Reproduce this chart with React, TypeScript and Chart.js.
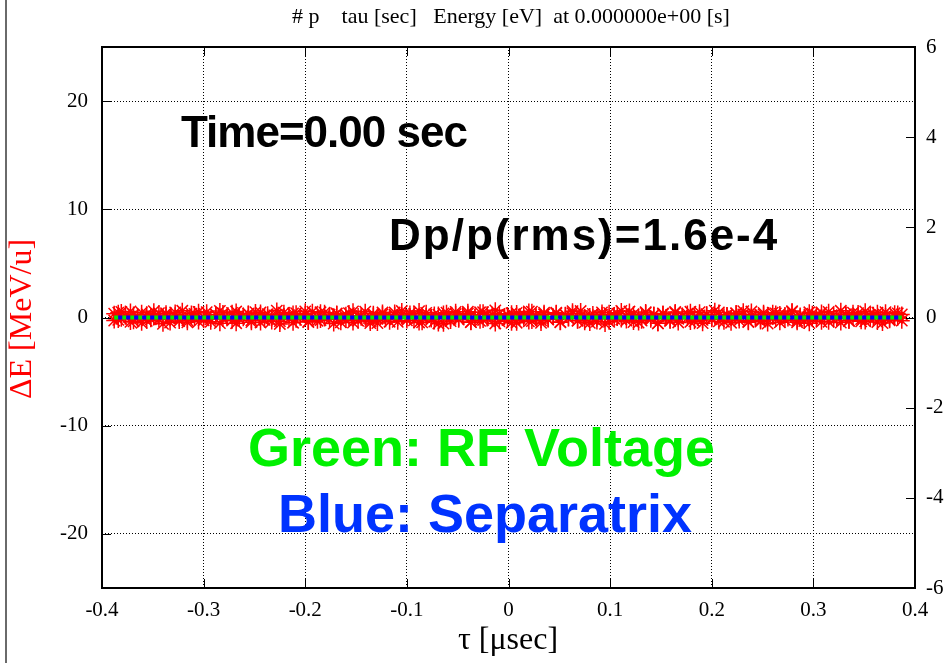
import React, { useEffect, useRef } from "react";
import { Chart, registerables } from "chart.js";

Chart.register(...registerables);

// ---- tick labels ----
const xTicks = [-0.4, -0.3, -0.2, -0.1, 0, 0.1, 0.2, 0.3, 0.4];
const yTicks = [-20, -10, 0, 10, 20];
const y2Ticks = [-6, -4, -2, 0, 2, 4, 6];

// ---- particle distribution (tau [usec], dE [MeV/u]) ----
const tau = [
  -0.388, -0.384, -0.381, -0.377, -0.372, -0.369, -0.365, -0.361, -0.356, -0.352,
  -0.349, -0.344, -0.34, -0.337, -0.333, -0.328, -0.324, -0.321, -0.316, -0.312,
  -0.309, -0.305, -0.3, -0.297, -0.293, -0.288, -0.284, -0.281, -0.277, -0.272,
  -0.268, -0.265, -0.261, -0.256, -0.253, -0.249, -0.244, -0.24, -0.237, -0.233,
  -0.228, -0.225, -0.221, -0.216, -0.212, -0.209, -0.205, -0.2, -0.197, -0.193,
  -0.188, -0.185, -0.181, -0.176, -0.172, -0.169, -0.165, -0.16, -0.157, -0.153,
  -0.148, -0.145, -0.141, -0.136, -0.133, -0.129, -0.124, -0.121, -0.117, -0.112,
  -0.109, -0.105, -0.1, -0.097, -0.093, -0.088, -0.085, -0.081, -0.076, -0.073,
  -0.069, -0.064, -0.061, -0.057, -0.052, -0.049, -0.045, -0.04, -0.037, -0.033,
  -0.028, -0.025, -0.021, -0.016, -0.013, -0.009, -0.004, -0.001, 0.003, 0.008,
  0.011, 0.015, 0.02, 0.023, 0.027, 0.032, 0.035, 0.039, 0.044, 0.047,
  0.051, 0.056, 0.059, 0.063, 0.068, 0.071, 0.075, 0.08, 0.083, 0.087,
  0.092, 0.095, 0.099, 0.104, 0.107, 0.111, 0.116, 0.119, 0.123, 0.128,
  0.131, 0.135, 0.14, 0.143, 0.147, 0.152, 0.155, 0.159, 0.164, 0.167,
  0.171, 0.176, 0.179, 0.183, 0.188, 0.191, 0.195, 0.2, 0.203, 0.207,
  0.212, 0.215, 0.219, 0.224, 0.227, 0.231, 0.236, 0.239, 0.243, 0.248,
  0.251, 0.255, 0.26, 0.263, 0.267, 0.272, 0.275, 0.279, 0.284, 0.287,
  0.291, 0.296, 0.299, 0.303, 0.308, 0.311, 0.315, 0.32, 0.323, 0.327,
  0.332, 0.335, 0.339, 0.344, 0.347, 0.351, 0.356, 0.359, 0.363, 0.368,
  0.371, 0.375, 0.38, 0.383, 0.387,
];
const dEa = [
  0.35, -0.22, 0.51, 0.08, -0.41, 0.27, -0.05, 0.44, -0.31, 0.12, 0.58, -0.18, 0.03, 0.39, -0.47,
  0.21, -0.09, 0.62, -0.26, 0.15, 0.33, -0.38, 0.06, 0.49, -0.14, 0.25, -0.52, 0.41, 0.02, -0.29,
  0.55, -0.11, 0.18, 0.36, -0.43, 0.09, 0.47, -0.21, 0.31, -0.06, 0.64, -0.34, 0.13, 0.22, -0.48,
  0.4, -0.02, 0.29, -0.37, 0.53, 0.07, -0.24, 0.45, -0.16, 0.11, 0.38, -0.44, 0.26, -0.08, 0.57,
  -0.3, 0.17, 0.04, -0.51, 0.34, -0.13, 0.46, 0.1, -0.39, 0.23, -0.04, 0.6, -0.27, 0.14, 0.32,
  -0.46, 0.05, 0.43, -0.19, 0.28, -0.55, 0.37, 0.01, -0.33, 0.52, -0.1, 0.2, 0.35, -0.42, 0.08,
  0.48, -0.23, 0.3, -0.07, 0.66, -0.35, 0.12, 0.24, -0.49, 0.42, -0.03, 0.27, -0.36, 0.54, 0.06,
  -0.25, 0.44, -0.17, 0.1, 0.39, -0.45, 0.25, -0.09, 0.58, -0.31, 0.16, 0.05, -0.5, 0.33, -0.12,
  0.47, 0.09, -0.4, 0.22, -0.05, 0.61, -0.28, 0.15, 0.31, -0.47, 0.04, 0.42, -0.2, 0.27, -0.54,
  0.38, 0.02, -0.32, 0.51, -0.11, 0.19, 0.36, -0.41, 0.07, 0.49, -0.22, 0.29, -0.08, 0.63, -0.36,
  0.11, 0.23, -0.48, 0.41, -0.04, 0.28, -0.37, 0.55, 0.05, -0.26, 0.43, -0.15, 0.12, 0.37, -0.44,
  0.24, -0.1, 0.59, -0.3, 0.18, 0.06, -0.52, 0.35, -0.14, 0.46, 0.08, -0.39, 0.21, -0.06, 0.62,
  0.31, -0.27, 0.44, 0.12, -0.35, 0.57, -0.09, 0.26, -0.42, 0.17, 0.49, -0.18, 0.03, 0.38, -0.29,
];
const dEb = [
  -0.28, 0.44, -0.12, 0.19, 0.56, -0.35, 0.07, -0.49, 0.31, -0.17, 0.02, 0.4, -0.58, 0.23, -0.06,
  0.47, -0.32, 0.14, -0.44, 0.36, -0.01, 0.52, -0.25, 0.09, -0.39, 0.28, 0.61, -0.15, 0.05, 0.43,
  -0.53, 0.2, -0.08, 0.34, -0.27, 0.5, -0.46, 0.16, 0.03, -0.36, 0.26, -0.6, 0.45, -0.13, 0.38,
  -0.21, 0.11, 0.57, -0.42, 0.06, -0.3, 0.48, -0.1, 0.24, -0.56, 0.33, 0.01, -0.23, 0.41, -0.47,
  0.13, -0.03, 0.54, -0.34, 0.18, -0.51, 0.29, -0.16, 0.07, 0.46, -0.4, 0.21, -0.07, 0.37, -0.26,
  0.59, -0.45, 0.15, 0.04, -0.38, 0.27, -0.57, 0.44, -0.12, 0.32, -0.2, 0.1, 0.53, -0.43, 0.08,
  -0.31, 0.49, -0.09, 0.25, -0.55, 0.34, 0.02, -0.24, 0.4, -0.48, 0.12, -0.02, 0.56, -0.33, 0.17,
  -0.5, 0.3, -0.18, 0.06, 0.45, -0.41, 0.22, -0.06, 0.39, -0.27, 0.6, -0.44, 0.14, 0.03, -0.37,
  0.26, -0.59, 0.43, -0.11, 0.35, -0.19, 0.09, 0.55, -0.42, 0.07, -0.29, 0.5, -0.08, 0.23, -0.54,
  0.32, 0.0, -0.22, 0.42, -0.46, 0.14, -0.04, 0.53, -0.35, 0.19, -0.52, 0.28, -0.17, 0.08, 0.47,
  -0.39, 0.2, -0.05, 0.36, -0.28, 0.58, -0.43, 0.16, 0.05, -0.38, 0.29, -0.56, 0.45, -0.13, 0.33,
  -0.21, 0.11, 0.51, -0.44, 0.09, -0.32, 0.48, -0.09, 0.26, -0.4, 0.15, 0.52, -0.19, 0.03, -0.47,
  0.24, -0.33, 0.06, 0.41, -0.14, -0.36, 0.22, -0.08, 0.45, -0.51, 0.13, -0.25, 0.39, -0.02, 0.28,
];

// ---- RF voltage (y2) and separatrix (y) ----
const lineTau = [-0.388, -0.2, 0, 0.2, 0.387];
const rfVoltage = [0, 0, 0, 0, 0];
const separatrix = [0, 0, 0, 0, 0];

const titleText = "# p    tau [sec]   Energy [eV]  at 0.000000e+00 [s]";

const decorPlugin = {
  id: "decor",
  beforeDraw(chart: any) {
    const ctx = chart.ctx;
    ctx.save();
    ctx.fillStyle = "#ffffff";
    ctx.fillRect(0, 0, chart.width, chart.height);
    ctx.strokeStyle = "#6a6a6a";
    ctx.lineWidth = 2;
    ctx.beginPath();
    ctx.moveTo(6, 0);
    ctx.lineTo(6, chart.height);
    ctx.stroke();
    ctx.restore();
  },
  afterDraw(chart: any) {
    const { ctx, chartArea: a, scales } = chart;
    ctx.save();
    // inward ticks
    ctx.strokeStyle = "#000";
    ctx.lineWidth = 1;
    ctx.beginPath();
    for (const v of xTicks) {
      const px = Math.round(scales.x.getPixelForValue(v)) + 0.5;
      ctx.moveTo(px, a.bottom);
      ctx.lineTo(px, a.bottom - 9);
      ctx.moveTo(px, a.top);
      ctx.lineTo(px, a.top + 9);
    }
    for (const v of yTicks) {
      const py = Math.round(scales.y.getPixelForValue(v)) + 0.5;
      ctx.moveTo(a.left, py);
      ctx.lineTo(a.left + 9, py);
    }
    for (const v of y2Ticks) {
      const py = Math.round(scales.y2.getPixelForValue(v)) + 0.5;
      ctx.moveTo(a.right, py);
      ctx.lineTo(a.right - 9, py);
    }
    ctx.stroke();
    // frame
    ctx.lineWidth = 2;
    ctx.strokeRect(a.left, a.top, a.right - a.left, a.bottom - a.top);

    // title
    ctx.fillStyle = "#000";
    ctx.font = "22px 'Liberation Serif'";
    ctx.textAlign = "center";
    ctx.textBaseline = "alphabetic";
    ctx.fillText(titleText, 511, 23);

    // axis titles
    ctx.font = "32px 'Liberation Serif'";
    ctx.textBaseline = "middle";
    ctx.fillText("τ [μsec]", 508, 641);
    ctx.save();
    ctx.translate(23, 319);
    ctx.rotate(-Math.PI / 2);
    ctx.fillStyle = "#ff0000";
    ctx.fillText("ΔE [MeV/u]", 0, 0);
    ctx.restore();

    // annotations
    ctx.textAlign = "left";
    ctx.textBaseline = "alphabetic";
    ctx.fillStyle = "#000";
    ctx.font = "bold 44px 'Liberation Sans'";
    (ctx as any).letterSpacing = "-1px";
    ctx.fillText("Time=0.00 sec", 181, 147);
    (ctx as any).letterSpacing = "2px";
    ctx.fillText("Dp/p(rms)=1.6e-4", 389, 250);
    (ctx as any).letterSpacing = "0px";
    ctx.font = "bold 54px 'Liberation Sans'";
    ctx.fillStyle = "#00f000";
    ctx.fillText("Green: RF Voltage", 248, 466);
    ctx.fillStyle = "#0033ff";
    ctx.fillText("Blue: Separatrix", 278, 532);
    ctx.restore();
  },
};

export default function App() {
  const ref = useRef<HTMLCanvasElement | null>(null);

  useEffect(() => {
    if (!ref.current) return;
    const ptsA = tau.map((t, i) => ({ x: t, y: dEa[i] })).filter((p) => p.y !== undefined);
    const ptsB = tau.map((t, i) => ({ x: t, y: dEb[i] })).filter((p) => p.y !== undefined);
    const rf = lineTau.map((t, i) => ({ x: t, y: rfVoltage[i] }));
    const sep = lineTau.map((t, i) => ({ x: t, y: separatrix[i] }));

    const chart = new Chart(ref.current, {
      type: "scatter",
      data: {
        datasets: [
          {
            label: "particles",
            data: [...ptsA, ...ptsB],
            pointStyle: "star",
            pointRadius: 8,
            borderColor: "#ff0000",
            backgroundColor: "#ff0000",
            borderWidth: 1.5,
            showLine: false,
            order: 3,
            yAxisID: "y",
          },
          {
            label: "RF Voltage",
            data: rf,
            type: "line",
            showLine: true,
            pointRadius: 0,
            borderColor: "#00ee00",
            borderWidth: 4,
            borderDash: [4, 4],
            borderDashOffset: 0,
            fill: false,
            order: 2,
            yAxisID: "y2",
          },
          {
            label: "Separatrix",
            data: sep,
            type: "line",
            showLine: true,
            pointRadius: 0,
            borderColor: "#0000ff",
            borderWidth: 4,
            borderDash: [4, 4],
            borderDashOffset: 4,
            fill: false,
            order: 1,
            yAxisID: "y",
          },
        ] as any,
      },
      options: {
        animation: false,
        responsive: false,
        maintainAspectRatio: false,
        layout: { padding: { top: 47, left: 0, right: 0, bottom: 0 } },
        plugins: {
          legend: { display: false },
          tooltip: { enabled: false },
          title: { display: false },
        },
        scales: {
          x: {
            type: "linear",
            position: "bottom",
            min: -0.4,
            max: 0.4,
            afterBuildTicks: (s: any) => {
              s.ticks = xTicks.map((v) => ({ value: v }));
            },
            afterFit: (s: any) => {
              s.height = 75;
            },
            ticks: {
              color: "#000",
              font: { family: "'Liberation Serif'", size: 21 },
              padding: 10,
              maxRotation: 0,
              autoSkip: false,
              callback: (v: any) => String(Math.round(Number(v) * 10) / 10),
            },
            grid: { color: "#000", lineWidth: 1, drawTicks: false },
            border: { display: false, dash: [1, 2] },
          },
          y: {
            type: "linear",
            position: "left",
            min: -25,
            max: 25,
            afterBuildTicks: (s: any) => {
              s.ticks = yTicks.map((v) => ({ value: v }));
            },
            afterFit: (s: any) => {
              s.width = 102;
            },
            ticks: {
              color: "#000",
              font: { family: "'Liberation Serif'", size: 21 },
              padding: 14,
              autoSkip: false,
              callback: (v: any) => String(v),
            },
            grid: { color: "#000", lineWidth: 1, drawTicks: false },
            border: { display: false, dash: [1, 2] },
          },
          y2: {
            type: "linear",
            position: "right",
            min: -6,
            max: 6,
            afterBuildTicks: (s: any) => {
              s.ticks = y2Ticks.map((v) => ({ value: v }));
            },
            afterFit: (s: any) => {
              s.width = 32;
            },
            ticks: {
              color: "#000",
              font: { family: "'Liberation Serif'", size: 21 },
              padding: 11,
              autoSkip: false,
              callback: (v: any) => String(v),
            },
            grid: { display: false, drawOnChartArea: false, drawTicks: false },
            border: { display: false },
          },
        },
      } as any,
      plugins: [decorPlugin],
    });
    return () => chart.destroy();
  }, []);

  return (
    <div style={{ position: "absolute", left: 0, top: 0, width: 947, height: 663 }}>
      <canvas ref={ref} width={947} height={663} style={{ display: "block" }} />
    </div>
  );
}
